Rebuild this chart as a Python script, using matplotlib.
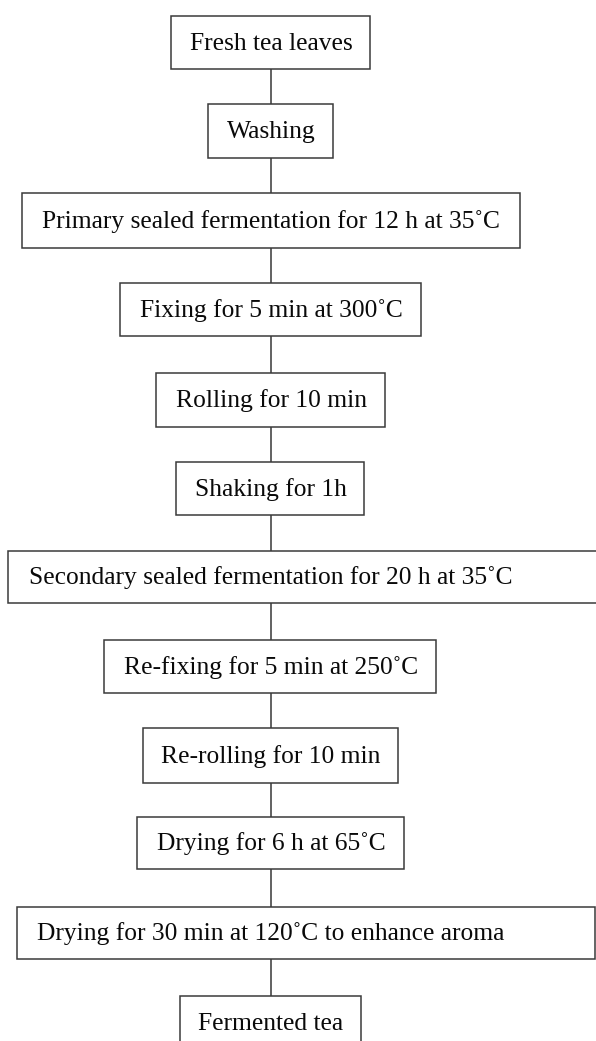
import matplotlib.pyplot as plt
from matplotlib.patches import Rectangle

# flow steps, top to bottom
steps = ['Fresh tea leaves',
         'Washing',
         'Primary sealed fermentation for 12 h at 35\u02daC',
         'Fixing for 5 min at 300\u02daC',
         'Rolling for 10 min',
         'Shaking for 1h',
         'Secondary sealed fermentation for 20 h at 35\u02daC',
         'Re-fixing for 5 min at 250\u02daC',
         'Re-rolling for 10 min',
         'Drying for 6 h at 65\u02daC',
         'Drying for 30 min at 120\u02daC to enhance aroma',
         'Fermented tea']
# box extents in pixels (left, right, top, bottom)
box_left = [171, 208, 22, 120, 156, 176, 8, 104, 143, 137, 17, 180]
box_right = [370, 333, 520, 421, 385, 364, 604, 436, 398, 404, 595, 361]
box_top = [16, 104, 193, 283, 373, 462, 551, 640, 728, 817, 907, 996]
box_bot = [69, 158, 248, 336, 427, 515, 603, 693, 783, 869, 959, 1050]

W, H = 596, 1041
cx = 271
fig = plt.figure(figsize=(W / 100, H / 100), dpi=100)
ax = fig.add_axes([0, 0, 1, 1])
ax.set_xlim(0, W)
ax.set_ylim(H, 0)
ax.axis('off')

edge = '#3a3a3a'
for i in range(len(steps)):
    l, r, t, b = box_left[i], box_right[i], box_top[i], box_bot[i]
    ax.add_patch(Rectangle((l, t), r - l, b - t, facecolor='white',
                           edgecolor=edge, linewidth=1.1, zorder=2))
    ax.text(cx, (t + b) / 2 + 1, steps[i],
            ha='center', va='center', fontsize=18.4,
            family='Liberation Serif', color='#0a0a0a', zorder=3)
    if i < len(steps) - 1:
        ax.plot([cx, cx], [b, box_top[i + 1]], color='#555555',
                linewidth=1.3, zorder=1)

fig.savefig('out.png', dpi=100, facecolor='white')
